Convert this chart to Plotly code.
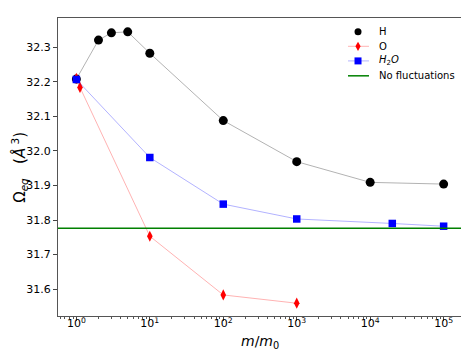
import plotly.graph_objects as go

h_x = [1, 2, 3, 5, 10, 100, 1000, 10000, 100000]
h_y = [32.208, 32.321, 32.342, 32.345, 32.283, 32.088, 31.969, 31.909, 31.904]

o_x = [1, 1.12, 10, 100, 1000]
o_y = [32.21, 32.184, 31.753, 31.583, 31.559]

w_x = [1, 10, 100, 1000, 20000, 100000]
w_y = [32.207, 31.981, 31.846, 31.803, 31.790, 31.782]

no_fluct = 31.776

series_names = ["H", "O", "<i>H</i><sub>2</sub><i>O</i>", "No fluctuations"]

xtick_vals = [1, 10, 100, 1000, 10000, 100000]
xtick_text = ["10<sup>0</sup>", "10<sup>1</sup>", "10<sup>2</sup>", "10<sup>3</sup>", "10<sup>4</sup>", "10<sup>5</sup>"]
ytick_vals = [31.6, 31.7, 31.8, 31.9, 32.0, 32.1, 32.2, 32.3]

minor_vals = [m * 10 ** e for e in range(-1, 6) for m in range(2, 10)]

H_LINE = "rgba(0,0,0,0.3)"
O_LINE = "rgba(255,0,0,0.3)"
W_LINE = "rgba(0,0,255,0.3)"

fig = go.Figure()
fig.add_trace(go.Scatter(x=h_x, y=h_y, mode="lines+markers", name=series_names[0],
                         line=dict(color=H_LINE, width=1),
                         marker=dict(color="black", size=9, symbol="circle")))
fig.add_trace(go.Scatter(x=o_x, y=o_y, mode="lines+markers", name=series_names[1],
                         line=dict(color=O_LINE, width=1),
                         marker=dict(color="red", size=8, symbol="diamond-tall")))
fig.add_trace(go.Scatter(x=w_x, y=w_y, mode="lines+markers", name=series_names[2],
                         line=dict(color=W_LINE, width=1),
                         marker=dict(color="blue", size=7.5, symbol="square")))
fig.add_hline(y=no_fluct, line=dict(color="green", width=1.5))

# manual legend (matplotlib-like compact spacing)
leg_rows = [0.954, 0.905, 0.856, 0.806]
leg_x0, leg_x1, leg_xm, leg_xt = 0.7178, 0.7698, 0.7426, 0.789
leg_line_colors = [H_LINE, O_LINE, W_LINE, "green"]
shapes = []
annots = []
for i, (yy, name, lc) in enumerate(zip(leg_rows, series_names, leg_line_colors)):
    shapes.append(dict(type="line", xref="paper", yref="paper", x0=leg_x0, x1=leg_x1, y0=yy, y1=yy,
                       line=dict(color=lc, width=1.5 if i == 3 else 1)))
    annots.append(dict(text=name, xref="paper", yref="paper", x=leg_xt, y=yy, xanchor="left",
                       yanchor="middle", showarrow=False, font=dict(size=10)))
shapes.append(dict(type="circle", xref="paper", yref="paper", xsizemode="pixel", ysizemode="pixel",
                   xanchor=leg_xm, yanchor=leg_rows[0], x0=-3.5, x1=3.5, y0=-3.5, y1=3.5,
                   fillcolor="black", line=dict(width=0)))
shapes.append(dict(type="path", xref="paper", yref="paper", xsizemode="pixel", ysizemode="pixel",
                   xanchor=leg_xm, yanchor=leg_rows[1], path="M -2.6 0 L 0 4.6 L 2.6 0 L 0 -4.6 Z",
                   fillcolor="red", line=dict(width=0)))
shapes.append(dict(type="rect", xref="paper", yref="paper", xsizemode="pixel", ysizemode="pixel",
                   xanchor=leg_xm, yanchor=leg_rows[2], x0=-3.5, x1=3.5, y0=-3.5, y1=3.5,
                   fillcolor="blue", line=dict(width=0)))

annots.append(dict(text="<i>m</i>/<i>m</i><sub>0</sub>", xref="paper", yref="paper", x=0.5, y=-0.087,
                   xanchor="center", yanchor="middle", showarrow=False, font=dict(size=14)))
annots.append(dict(text="Ω<sub><i>eq</i></sub>   (<i>Å</i><sup> 3</sup>)", xref="paper", yref="paper",
                   x=-0.097, y=0.5, xanchor="center", yanchor="middle", textangle=-90,
                   showarrow=False, font=dict(size=15)))

fig.update_layout(
    width=461, height=354,
    margin=dict(l=50, r=7, t=10, b=46, autoexpand=False),
    plot_bgcolor="white", paper_bgcolor="white",
    font=dict(family="DejaVu Sans", size=11, color="black"),
    showlegend=False,
    xaxis=dict(type="log", range=[-0.25, 5.25], tickvals=xtick_vals, ticktext=xtick_text,
               ticks="outside", ticklen=4, showgrid=False, zeroline=False,
               showline=True, linecolor="#555", mirror=True, linewidth=1, automargin=False,
               ticklabelstandoff=-7,
               minor=dict(tickvals=minor_vals, ticks="outside", ticklen=2, tickcolor="#555")),
    yaxis=dict(range=[31.522, 32.385], tickvals=ytick_vals, tickformat=".1f",
               ticks="outside", ticklen=4, showgrid=False, zeroline=False,
               showline=True, linecolor="#555", mirror=True, linewidth=1, automargin=False),
    shapes=shapes,
    annotations=annots,
)

fig.write_html("out.html")
